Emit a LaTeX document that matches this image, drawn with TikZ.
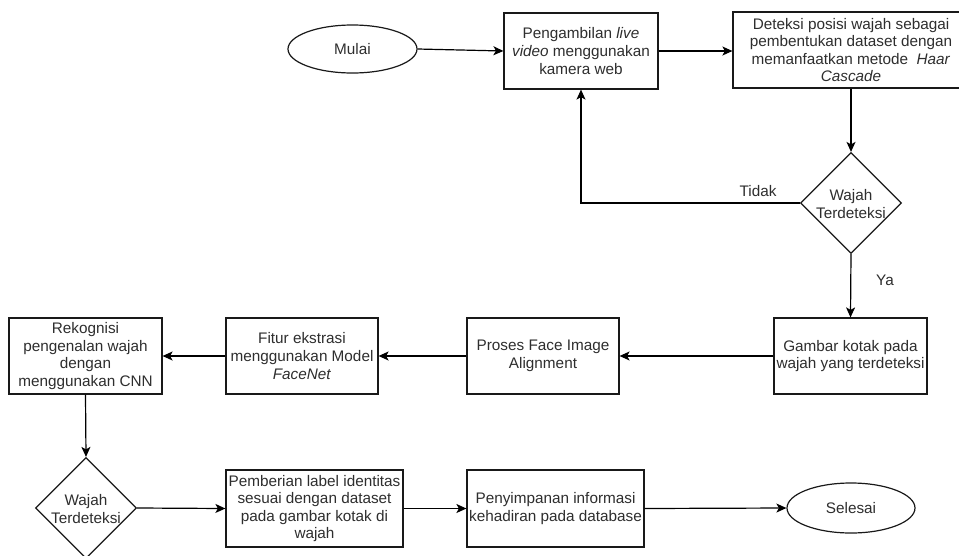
\documentclass[tikz,border=0pt]{standalone}
\usepackage{fontspec}
\setmainfont{Liberation Sans}
\usetikzlibrary{shapes.geometric,arrows.meta}
\begin{document}
\begin{tikzpicture}[x=1pt,y=-1pt,
  every node/.style={font=\fontsize{15.3}{17.6}\selectfont, text=black!82},
  box/.style={draw=black!90, line width=1.2pt, rectangle, align=center, inner sep=0pt},
  oval/.style={draw=black!90, line width=1.2pt, ellipse, inner sep=0pt},
  diam/.style={draw=black!90, line width=1.2pt, diamond, aspect=1, inner sep=0pt, minimum width=101pt, minimum height=101pt},
  txt/.style={align=center, inner sep=0pt},
  conn/.style={draw=black, line width=1.2pt, -{Stealth[length=10pt,width=9pt,inset=2.5pt]}},
  lbl/.style={inner sep=0pt}
]
\useasboundingbox (0,0) rectangle (959,555);
\fill[white] (0,0) rectangle (959,555);

\node[oval, minimum width=129pt, minimum height=48pt] (mulai) at (352.5,49) {Mulai};
\node[box, minimum width=154pt, minimum height=76pt] (peng) at (581,51) {Pengambilan \textit{live}\\\textit{video} menggunakan\\kamera web};
\node[box, minimum width=236pt, minimum height=76pt] (detek) at (851,50) {Deteksi posisi wajah sebagai\\pembentukan dataset dengan\\memanfaatkan metode \ \textit{Haar}\\\textit{Cascade}};
\node[diam] (d1) at (851,203) {};
\node[txt] (d1t) at (851,204) {Wajah\\Terdeteksi};
\node[box, minimum width=153pt, minimum height=76pt] (gambar) at (850.5,356) {Gambar kotak pada\\wajah yang terdeteksi};
\node[box, minimum width=152pt, minimum height=76pt] (proses) at (543,356) {Proses Face Image\\Alignment};
\node[box, minimum width=152pt, minimum height=76pt] (fitur) at (302,356) {Fitur ekstrasi\\menggunakan Model\\\textit{FaceNet}};
\node[box, minimum width=153pt, minimum height=76pt] (rekog) at (85.5,356) {Rekognisi\\pengenalan wajah\\dengan\\menggunakan CNN};
\node[diam] (d2) at (86,508) {};
\node[txt] (d2t) at (86,509) {Wajah\\Terdeteksi};
\node[box, minimum width=177pt, minimum height=77pt] (pemb) at (314.5,508.5) {Pemberian label identitas\\sesuai dengan dataset\\pada gambar kotak di\\wajah};
\node[box, minimum width=177pt, minimum height=77pt] (peny) at (555.5,508.5) {Penyimpanan informasi\\kehadiran pada database};
\node[oval, minimum width=128pt, minimum height=50pt] (selesai) at (851,508) {Selesai};

\coordinate (bend) at (581,203);
\node[lbl] (tidak) at (758,191) {Tidak};
\node[lbl] (ya) at (885,280) {Ya};

\draw[conn] (mulai.east) -- (peng.west);
\draw[conn] (peng.east) -- (detek.west |- peng.east);
\draw[conn] (detek.south) -- (d1.north);
\draw[conn] (d1.west) -- (bend) -- (peng.south);
\draw[conn] (d1.south) -- (gambar.north);
\draw[conn] (gambar.west) -- (proses.east);
\draw[conn] (proses.west) -- (fitur.east);
\draw[conn] (fitur.west) -- (rekog.east);
\draw[conn] (rekog.south) -- (d2.north);
\draw[conn] (d2.east) -- (pemb.west);
\draw[conn] (pemb.east) -- (peny.west);
\draw[conn] (peny.east) -- (selesai.west);
\end{tikzpicture}
\end{document}
